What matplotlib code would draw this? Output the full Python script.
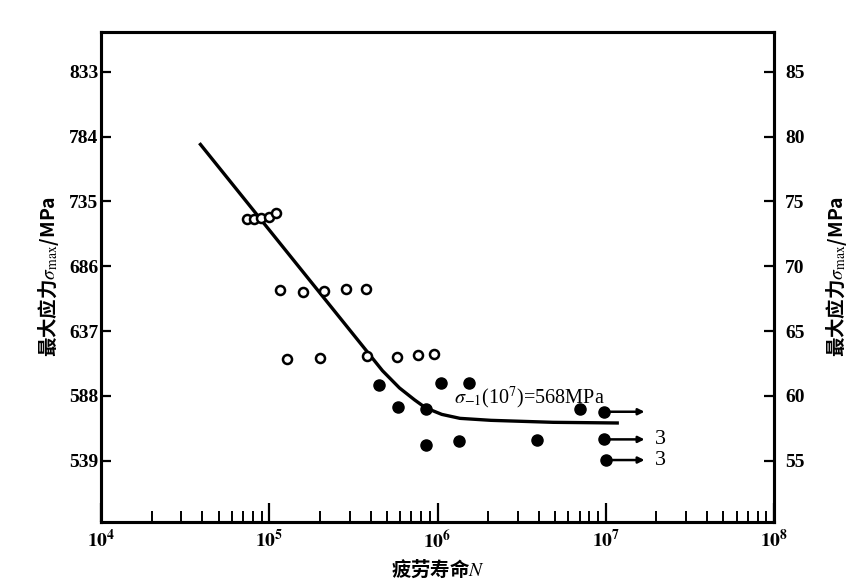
import matplotlib
matplotlib.use("Agg")
from matplotlib import pyplot as plt
from matplotlib.ticker import FixedLocator, LogLocator, NullFormatter

plt.rcParams["font.family"] = ["Noto Sans CJK SC", "DejaVu Sans"]
plt.rcParams["mathtext.fontset"] = "stix"

# S-N curve (fatigue life N, max stress MPa)
curve_n = [3.9e4, 4.71e5, 5.94e5, 7.30e5, 8.49e5, 1.06e6, 1.36e6, 2.08e6, 4.86e6, 1.17e7]
curve_s = [778, 607, 594, 585, 579, 574, 571, 569.5, 568, 567.5]

# open circles
open_n = [7.36e4, 8.11e4, 8.91e4, 9.91e4, 1.10e5,
          1.16e5, 1.58e5, 2.12e5, 2.87e5, 3.77e5,
          1.28e5, 1.99e5, 3.80e5, 5.73e5, 7.64e5, 9.51e5]
open_s = [722, 722, 722.5, 723.5, 726,
          668, 666.7, 667.2, 668.5, 668.8,
          615.6, 616.4, 618.3, 617.1, 619.1, 619.4]

# filled circles
fill_n = [4.48e5, 5.84e5, 8.49e5, 1.05e6, 1.53e6, 8.57e5, 1.35e6, 3.90e6, 7.03e6]
fill_s = [596.2, 579.3, 577.8, 597.9, 597.5, 550.8, 553.9, 554.6, 577.8]

# run-outs (not broken) with arrows, and their counts
run_n = [9.7e6, 9.7e6, 1.0e7]
run_s = [576, 555.1, 539.5]
run_count = ["", "3", "3"]
arrow_end = 1.7e7
count_x = 1.95e7

left_ticks = [539, 588, 637, 686, 735, 784, 833]
right_ticks = [55, 60, 65, 70, 75, 80, 85]
x_ticks = [1e4, 1e5, 1e6, 1e7, 1e8]
x_labels = [r"$\mathbf{10^{4}}$", r"$\mathbf{10^{5}}$", r"$\mathbf{10^{6}}$",
            r"$\mathbf{10^{7}}$", r"$\mathbf{10^{8}}$"]
ylo, yhi = 492.9, 863.2

fig = plt.figure(figsize=(8.52, 5.82), dpi=100)
ax = fig.add_axes([101 / 852, 60.3 / 582, 673 / 852, 490 / 582])

ax.plot(curve_n, curve_s, color="black", lw=2.4, zorder=2)
ax.plot(open_n, open_s, "o", ms=6.5, mfc="white", mec="black", mew=1.8, zorder=3)
ax.plot(fill_n, fill_s, "o", ms=8, color="black", zorder=3)
ax.plot(run_n, run_s, "o", ms=8, color="black", zorder=3)

for n, s, c in zip(run_n, run_s, run_count):
    ax.annotate("", xy=(arrow_end, s), xytext=(n, s),
                arrowprops=dict(arrowstyle="-|>", color="black", lw=1.8,
                                mutation_scale=9, shrinkA=0, shrinkB=0))
    if c:
        ax.text(count_x, s, c, fontsize=16, family="Liberation Serif",
                va="center", ha="left")

ax.text(1.25e6, 582.5, r"$\sigma_{-1}$(10$^7$)=568MPa", fontsize=14.5,
        family="Liberation Serif", va="baseline", ha="left")

ax.set_xscale("log")
ax.set_xlim(1e4, 1e8)
ax.set_ylim(ylo, yhi)
ax.set_xticks(x_ticks)
ax.set_xticklabels(x_labels, fontsize=14)
ax.xaxis.set_minor_locator(LogLocator(base=10, subs=range(2, 10)))
ax.xaxis.set_minor_formatter(NullFormatter())
ax.yaxis.set_major_locator(FixedLocator(left_ticks))
ax.set_yticklabels([str(t) for t in left_ticks], fontsize=14,
                   family="Liberation Serif", fontweight="bold")

ax.tick_params(axis="x", which="major", direction="in", length=14, width=1.6, pad=6)
ax.tick_params(axis="x", which="minor", direction="in", length=8, width=1.4)
ax.tick_params(axis="y", direction="in", length=7, width=1.6, pad=2)

ax.set_xlabel("疲劳寿命$N$", fontsize=14, fontweight="bold", labelpad=3)
ax.set_ylabel(r"最大应力$\sigma_{\max}$/MPa", fontsize=14, fontweight="bold", labelpad=6)

ax2 = ax.twinx()
ax2.set_ylim(ylo / 9.8, yhi / 9.8)
ax2.yaxis.set_major_locator(FixedLocator(right_ticks))
ax2.set_yticklabels([str(t) for t in right_ticks], fontsize=14,
                    family="Liberation Serif", fontweight="bold")
ax2.tick_params(axis="y", direction="in", length=7, width=1.6, pad=8)
ax2.set_ylabel(r"最大应力$\sigma_{\max}$/MPa", fontsize=14, fontweight="bold", labelpad=14)

for a in (ax, ax2):
    for sp in a.spines.values():
        sp.set_linewidth(2.2)

fig.savefig("out.png", dpi=100)
